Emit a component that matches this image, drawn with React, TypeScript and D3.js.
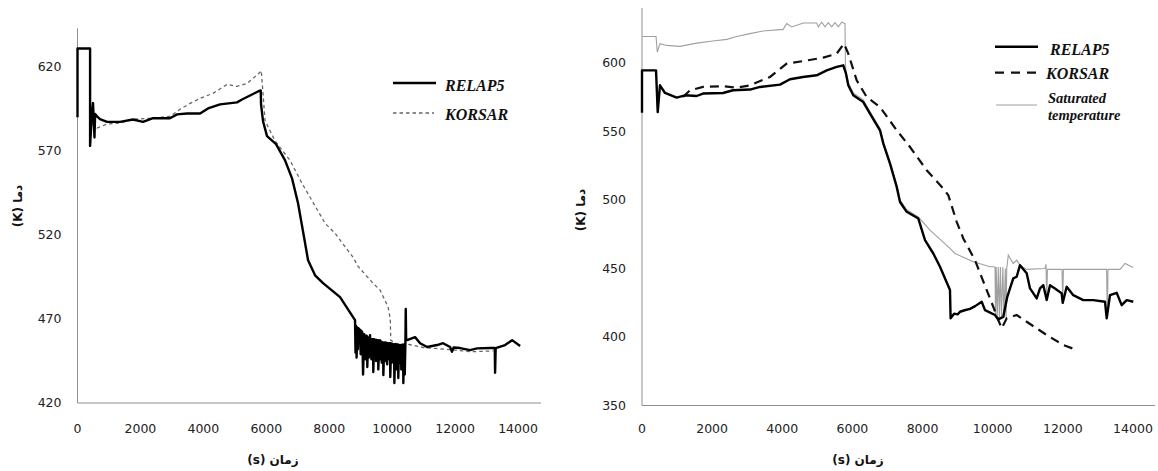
import React from 'react';
import * as d3 from 'd3';

// time (s), temperature (K)
const leftRelap: [number, number][] = [
  [0, 590], [0, 631], [400, 631], [400, 573], [450, 590], [493, 598.5], [540, 578], [560, 592],
  [620, 590.6], [715, 588.9], [938, 587.3], [1351, 587.3], [1764, 588.7], [2082, 587.3],
  [2400, 589.5], [2940, 589.5], [3163, 591.8], [3481, 592.3], [3894, 592.3], [4148, 595.3],
  [4530, 597.7], [5070, 598.9], [5229, 600.6], [5483, 603], [5737, 605.4], [5823, 606],
  [5833, 597.7], [5896, 587.7], [6023, 578.8], [6310, 574.1], [6596, 564.4], [6818, 553.7],
  [7009, 538.9], [7200, 518.6], [7327, 505], [7550, 496], [7804, 491.3], [8344, 483],
  [8820, 469.3], [8835, 450], [8850, 466], [8870, 447], [8890, 465], [8910, 452], [8930, 464.5],
  [8979, 463.4], [9000, 449], [9020, 463], [9050, 462], [9075, 437], [9110, 461], [9130, 448],
  [9150, 460], [9160, 446], [9190, 460], [9202, 459], [9210, 441.4], [9240, 459], [9260, 447],
  [9297, 460.4], [9310, 449], [9330, 458], [9340, 446], [9360, 458], [9393, 458], [9400, 438.4],
  [9430, 458], [9450, 448], [9480, 457.5], [9490, 445], [9510, 457.5], [9530, 447], [9552, 457.4],
  [9560, 440], [9590, 457], [9615, 457.4], [9630, 446], [9660, 456.5], [9670, 444], [9690, 456],
  [9711, 456], [9720, 436.6], [9750, 456], [9780, 445], [9800, 456], [9830, 455.8], [9840, 443],
  [9860, 455.6], [9880, 446], [9901, 455.6], [9933, 455.6], [9940, 435.5], [9970, 455.5],
  [9990, 444], [10010, 455.2], [10030, 446], [10060, 455], [10070, 431.9], [10100, 455],
  [10120, 445], [10140, 454.8], [10150, 440], [10170, 454.6], [10188, 454.5], [10195, 434.9],
  [10220, 454.5], [10250, 444], [10280, 454.5], [10290, 440], [10310, 454.5], [10330, 443],
  [10347, 454.5], [10355, 431.9], [10380, 454.5], [10400, 437], [10420, 455], [10432, 476],
  [10445, 457.4], [10474, 457.4], [10728, 459.2], [10887, 455.6], [11110, 453.3], [11428, 454.5],
  [11618, 455.6], [11841, 453.3], [11900, 450.5], [11950, 453], [12158, 452.7], [12476, 451.5],
  [12700, 452.5], [13112, 452.7], [13260, 452.7], [13271, 438], [13290, 452.7], [13589, 454.5],
  [13812, 457.4], [14066, 453.9],
];

const leftKorsar: [number, number][] = [
  [450, 586], [620, 583.6], [938, 586], [1351, 586.6], [1764, 588.9], [2400, 589.5],
  [2940, 590.6], [3259, 594.8], [3576, 598.3], [3894, 601.3], [4307, 604.3], [4752, 609.6],
  [5070, 608.4], [5388, 610.2], [5801, 616.8], [5840, 617.8], [5896, 604.2], [5960, 588],
  [6278, 576], [6596, 568.2], [6755, 564.4], [7136, 550.7], [7867, 527], [8185, 521],
  [8757, 506.7], [8916, 501.3], [9393, 491.3], [9615, 487.2], [9870, 477.2], [9940, 470],
  [9955, 457.4], [10100, 455.5], [10500, 455], [11000, 453], [12000, 451.5], [12500, 450.5],
  [13200, 451],
];

const rightRelap: [number, number][] = [
  [0, 563.5], [0, 594.5], [400, 594.5], [448, 564], [513, 583.6], [656, 578], [989, 574.6],
  [1226, 576.3], [1560, 575.8], [1739, 577.6], [2310, 578], [2595, 580], [3080, 580.5],
  [3365, 582.4], [3935, 584.1], [4220, 588], [4591, 589.7], [4981, 590.9], [5267, 594.5],
  [5552, 597], [5740, 598.2], [5817, 592.1], [5882, 583.6], [6025, 576.3], [6310, 571.4],
  [6501, 563], [6786, 550.8], [6881, 541.1], [7072, 526.5], [7263, 509.5], [7357, 498.5],
  [7548, 491.3], [7879, 486.4], [8070, 470.6], [8306, 460.9], [8497, 451.2], [8782, 434.2],
  [8800, 413.6], [8900, 417], [9000, 416.5], [9068, 418.4], [9200, 419.5], [9353, 420.5],
  [9500, 422.5], [9686, 425.7], [9780, 419.6], [10066, 416], [10160, 412.8], [10302, 414.7],
  [10416, 429.3], [10500, 436], [10587, 442.7], [10684, 443.9], [10778, 452.4],
  [10969, 446.4], [11064, 435.4], [11255, 428.1], [11349, 435.4], [11443, 437.8], [11540, 426.9],
  [11634, 437.8], [11776, 435.4], [11967, 431.8], [11996, 424.9], [12110, 436.6], [12298, 430.5],
  [12583, 426.9], [12868, 426.9], [13202, 425.7], [13251, 413.6], [13345, 430.5], [13536, 432.2],
  [13678, 423.2], [13821, 426.9], [14009, 425.7],
];

const rightKorsar: [number, number][] = [
  [1169, 575.1], [1369, 580], [1739, 582.4], [2310, 582.9], [2709, 581.9], [3080, 583.6],
  [3650, 589.7], [4126, 599.4], [4600, 601.3], [5170, 603.8], [5552, 606.7], [5760, 614],
  [5882, 606.7], [6122, 587.2], [6407, 575.1], [6786, 567.8], [7263, 550.8], [7642, 538.6],
  [8118, 521.6], [8591, 508.3], [8734, 503.4], [8973, 484], [9162, 471.9], [9495, 456],
  [9829, 434.2], [10017, 422], [10160, 412.3], [10257, 406.3], [10399, 413.6], [10684, 416],
  [10969, 411.1], [11540, 401.4], [12013, 394.1], [12395, 390.5],
];

const rightSat: [number, number][] = [
  [0, 619.2], [400, 619.2], [436, 607.9], [513, 614], [704, 612.7], [1084, 612], [1560, 614.4],
  [2025, 615.9], [2415, 617.1], [2700, 619.2], [3080, 621.3], [3450, 623.2], [3935, 624.2],
  [4020, 624.2], [4126, 628.6], [4268, 626.2], [4600, 629.1], [4981, 629.1], [5027, 626.2],
  [5124, 629.7], [5218, 626.2], [5312, 629.3], [5409, 626.2], [5503, 629.3], [5597, 626.2],
  [5694, 629.7], [5788, 628.6], [5800, 600], [5817, 594], [5882, 585.5], [6025, 578],
  [6310, 573], [6501, 564.5], [6786, 552.3], [6881, 542.6], [7072, 528], [7263, 511],
  [7357, 500], [7548, 492.8], [7879, 487.5], [8212, 477.9], [8782, 464.6], [8925, 460.9],
  [9447, 454.8], [9923, 451.2], [10017, 451.2], [10066, 451], [10080, 414], [10100, 451],
  [10130, 414], [10160, 451], [10190, 414], [10220, 451], [10250, 414], [10290, 451],
  [10320, 414], [10360, 450], [10380, 414], [10400, 450], [10445, 459.7], [10587, 453.6],
  [10684, 456], [10778, 452.4], [10969, 449.3], [11491, 450], [11520, 453], [11540, 426.9],
  [11560, 449.3], [11976, 449.3], [11996, 425.7], [12016, 449.3], [12500, 449.3],
  [13248, 449.3], [13268, 414.7], [13288, 449.3], [13630, 449.3], [13772, 453.6],
  [14009, 450.7],
];

const xTicks = [0, 2000, 4000, 6000, 8000, 10000, 12000, 14000];
const leftYTicks = [420, 470, 520, 570, 620];
const rightYTicks = [350, 400, 450, 500, 550, 600];
const yTitle = '(K) دما';
const xTitle = '(s) زمان';

const tickFont = { fontFamily: 'DejaVu Sans', fontSize: 12.5, fill: '#222' };
const titleFont = { fontFamily: 'DejaVu Sans', fontSize: 12, fontWeight: 700, fill: '#111' };
const legendFont = {
  fontFamily: 'Liberation Serif',
  fontSize: 16,
  fontWeight: 700,
  fontStyle: 'italic',
  fill: '#111',
};

function Panel(props: any) {
  const { x, y, yTicks, children, titlePos, xTitlePos } = props;
  const [x0, x1] = x.range();
  const [y0, y1] = y.range();
  return (
    <g>
      <line x1={x0} x2={x0} y1={y0} y2={y1} stroke="#8f8f8f" strokeWidth={1} />
      <line x1={x0} x2={x1} y1={y0} y2={y0} stroke="#8f8f8f" strokeWidth={1} />
      {yTicks.map((t: number) => (
        <text key={'y' + t} x={x0 - 16} y={y(t)} dy="0.35em" textAnchor="end" {...tickFont}>
          {t}
        </text>
      ))}
      {xTicks.map((t) => (
        <text key={'x' + t} x={x(t)} y={429} dy="0.35em" textAnchor="middle" {...tickFont}>
          {t}
        </text>
      ))}
      <text
        transform={`translate(${titlePos[0]},${titlePos[1]}) rotate(-90)`}
        textAnchor="middle"
        dy="0.35em"
        {...titleFont}
      >
        {yTitle}
      </text>
      <text x={xTitlePos[0]} y={xTitlePos[1]} textAnchor="middle" dy="0.35em" {...titleFont}>
        {xTitle}
      </text>
      {children}
    </g>
  );
}

export default function App() {
  const xL = d3.scaleLinear().domain([0, 14730]).range([77.5, 541]);
  const yL = d3.scaleLinear().domain([420, 643]).range([403, 28.3]);
  const xR = d3.scaleLinear().domain([0, 14628]).range([642, 1155]);
  const yR = d3.scaleLinear().domain([350, 640]).range([405.5, 8]);

  const lineL = d3.line<[number, number]>().x((d) => xL(d[0])).y((d) => yL(d[1]));
  const lineR = d3.line<[number, number]>().x((d) => xR(d[0])).y((d) => yR(d[1]));

  return (
    <svg
      width={1158}
      height={471}
      style={{ position: 'absolute', left: 0, top: 0, background: '#fff' }}
    >
      <rect width={1158} height={471} fill="#fff" />
      <Panel x={xL} y={yL} yTicks={leftYTicks} titlePos={[18, 206]} xTitlePos={[273, 460]}>
        <path d={lineL(leftKorsar) || ''} fill="none" stroke="#666" strokeWidth={1.3} strokeDasharray="3.5,3" />
        <path d={lineL(leftRelap) || ''} fill="none" stroke="#000" strokeWidth={2.4} strokeLinejoin="round" />
        <line x1={393} x2={436} y1={83} y2={83} stroke="#000" strokeWidth={2.4} />
        <line x1={393} x2={434} y1={113} y2={113} stroke="#666" strokeWidth={1.3} strokeDasharray="3.5,3" />
        <text x={445} y={90.5} {...legendFont}>RELAP5</text>
        <text x={445} y={120} {...legendFont}>KORSAR</text>
      </Panel>
      <Panel x={xR} y={yR} yTicks={rightYTicks} titlePos={[581, 210]} xTitlePos={[858, 460]}>
        <path d={lineR(rightSat) || ''} fill="none" stroke="#a0a0a0" strokeWidth={1.1} />
        <path d={lineR(rightKorsar) || ''} fill="none" stroke="#111" strokeWidth={2.2} strokeDasharray="9,6" />
        <path d={lineR(rightRelap) || ''} fill="none" stroke="#000" strokeWidth={2.4} strokeLinejoin="round" />
        <line x1={995} x2={1038} y1={46.7} y2={46.7} stroke="#000" strokeWidth={2.4} />
        <line x1={995} x2={1040} y1={72.7} y2={72.7} stroke="#111" strokeWidth={2.2} strokeDasharray="9,7" />
        <line x1={996} x2={1037} y1={105} y2={105} stroke="#a0a0a0" strokeWidth={1.1} />
        <text x={1050} y={55} {...legendFont}>RELAP5</text>
        <text x={1046} y={79} {...legendFont}>KORSAR</text>
        <text x={1048} y={103} {...legendFont} fontSize={14.5}>Saturated</text>
        <text x={1048} y={120} {...legendFont} fontSize={14.5}>temperature</text>
      </Panel>
    </svg>
  );
}
